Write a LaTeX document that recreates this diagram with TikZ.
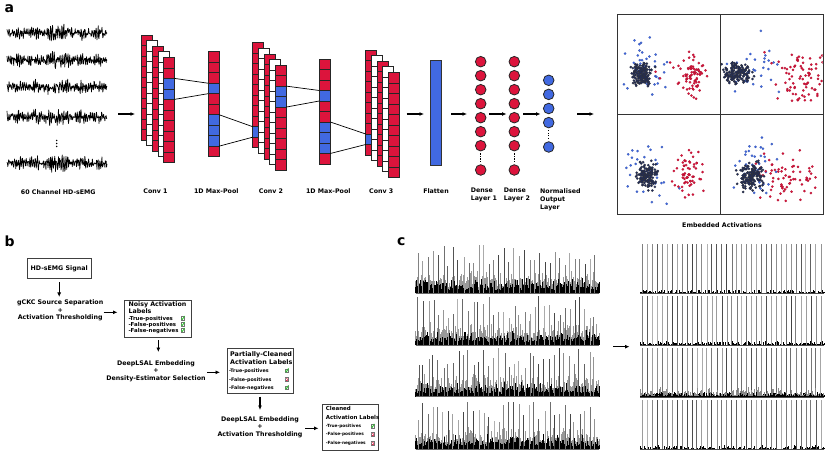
\documentclass[tikz,border=0pt]{standalone}
\usepackage{fontspec}
\setmainfont{DejaVu Sans}
\usetikzlibrary{arrows.meta}
\definecolor{cred}{RGB}{220,20,60}
\definecolor{cblue}{RGB}{65,105,225}
\definecolor{cnavy}{RGB}{28,42,100}
\definecolor{okgreen}{RGB}{50,190,50}
\newcommand\cnncol[3]{\foreach \j in {0,...,9}{\draw[cell,fill=#3] (#1,{#2+\j*10.5}) rectangle ++(11,10.5);}}
\newcommand\cnnblue[3]{\draw[cell,fill=cblue] (#1,{#2+#3*10.5}) rectangle ++(11,10.5);}
\newcommand\poolcol[2]{\cnncol{#1}{#2}{cred}\cnnblue{#1}{#2}{3}\cnnblue{#1}{#2}{6}\cnnblue{#1}{#2}{7}\cnnblue{#1}{#2}{8}}
\newcommand\scatterpts[6]{\foreach \i in {1,...,#1}{\pgfmathsetmacro\gx{#2+#4*(rand+rand+rand)}\pgfmathsetmacro\gy{#3+#5*(rand+rand+rand)}\path[#6] (\gx,\gy) circle (1.2pt);}}
\begin{document}
\begin{tikzpicture}[x=1pt,y=-1pt,
  cell/.style={draw=black!85, line width=0.6pt},
  conn/.style={draw=black, line width=0.7pt},
  arr/.style={-{Latex[length=4.5pt,width=4pt]}, line width=1.1pt},
  lbl/.style={font=\bfseries\fontsize{6.3}{8}\selectfont, inner sep=0pt},
  tsm/.style={font=\bfseries\fontsize{#1}{#1}\selectfont, inner sep=0pt, anchor=base west},
  neuron/.style={circle, draw=black!85, line width=0.8pt, minimum size=10.6pt, inner sep=0pt},
  dotline/.style={line width=1.4pt, dash pattern=on 1.2pt off 1.3pt, shorten <=2pt, shorten >=2pt},
  box/.style={draw=black!75, line width=0.7pt, inner sep=0pt},
  navypt/.style={fill=cnavy, draw=black!80, line width=0.2pt},
  bluept/.style={fill=cblue, draw=cblue!75!black, line width=0.15pt},
  redpt/.style={fill=cred, draw=cred!75!black, line width=0.15pt},
  okbox/.pic={\draw[line width=0.35pt, draw=black!55, fill=white] (-1.9,-1.9) rectangle (1.9,1.9); \draw[okgreen, line width=0.85pt] (-1.3,-0.1) -- (-0.3,1.2) -- (1.8,-2.3);},
  nobox/.pic={\draw[line width=0.35pt, draw=black!55, fill=cred] (-1.9,-1.9) rectangle (1.9,1.9); \draw[white, line width=0.45pt] (-1,-1) -- (1,1) (-1,1) -- (1,-1);},
  bigl/.style={font=\bfseries\fontsize{14}{16}\selectfont, anchor=base west, inner sep=0pt}]
\fill[white] (0,0) rectangle (830,454);
\useasboundingbox (0,0) rectangle (830,454);
\pgfmathsetseed{12345}

% ---------------- panel a ----------------
\node[bigl] (pa) at (4.5,13) {a};
\foreach \yy in {33,60,87,117,163}{
  \draw[line width=0.7pt, line join=round] plot[domain=7:107, samples=240] (\x,{\yy + (6.5+4/(1+((\x-58)/6)^2)+1.5*sin(\x*23))*(0.45*sin(10*mod(19*\x,36))+0.55*rand)});
}
\foreach \yy in {140.5,143.5,146.5}{\fill (56.7,\yy) circle (0.8pt);}
\node[lbl, anchor=base] (lemg) at (58.3,195) {60 Channel HD-sEMG};

% conv 1
\cnncol{141}{35}{cred}
\cnncol{146.6}{40.6}{white}
\cnncol{152.2}{46.2}{cred}
\cnncol{157.8}{51.8}{white}
\cnncol{163.4}{57.4}{cred}
\cnnblue{163.4}{57.4}{2}\cnnblue{163.4}{57.4}{3}
% pool 1
\poolcol{208}{51.7}
% conv 2
\cnncol{252.7}{42.7}{cred}\cnnblue{252.7}{42.7}{8}
\cnncol{258.3}{48.3}{white}
\cnncol{263.9}{53.9}{cred}
\cnncol{269.5}{59.5}{white}
\cnncol{275.1}{65.1}{cred}
\cnnblue{275.1}{65.1}{2}\cnnblue{275.1}{65.1}{3}
% pool 2
\poolcol{319.3}{59}
% conv 3
\cnncol{365.7}{50}{cred}\cnnblue{365.7}{50}{8}
\cnncol{371.3}{55.6}{white}
\cnncol{376.9}{61.2}{cred}
\cnncol{382.5}{66.8}{white}
\cnncol{388.1}{72.4}{cred}

\coordinate (c1t) at (174.4,78.4); \coordinate (c1b) at (174.4,99.4);
\coordinate (p1t) at (208,83.2);   \coordinate (p1b) at (208,93.7);
\coordinate (p1u) at (219,114.7);  \coordinate (p1v) at (219,146.2);
\coordinate (c2t) at (252.7,126.7); \coordinate (c2b) at (252.7,137.2);
\coordinate (c2u) at (286.1,86.1); \coordinate (c2v) at (286.1,107.1);
\coordinate (p2t) at (319.3,90.5); \coordinate (p2b) at (319.3,101);
\coordinate (p2u) at (330.3,122);  \coordinate (p2v) at (330.3,153.5);
\coordinate (c3t) at (365.7,134);  \coordinate (c3b) at (365.7,144.5);
\draw[conn] (c1t) -- (p1t) (c1b) -- (p1b) (p1u) -- (c2t) (p1v) -- (c2b)
            (c2u) -- (p2t) (c2v) -- (p2b) (p2u) -- (c3t) (p2v) -- (c3b);

\node[lbl, anchor=base] (lc1) at (155.5,193.3) {Conv 1};
\node[lbl, anchor=base] (lp1) at (216.3,193.3) {1D Max-Pool};
\node[lbl, anchor=base] (lc2) at (271,193.3) {Conv 2};
\node[lbl, anchor=base] (lp2) at (328.3,193.3) {1D Max-Pool};
\node[lbl, anchor=base] (lc3) at (381.2,193.3) {Conv 3};
\node[lbl, anchor=base] (lfl) at (436,193.3) {Flatten};

% flatten
\node[draw=black!80, line width=0.8pt, fill=cblue, minimum width=11pt, minimum height=105pt, inner sep=0pt] (flat) at (435.5,112.5) {};

% dense layers
\foreach \n/\yy in {1/61.7,2/75.7,3/89.7,4/103.7,5/117.7,6/131.7,7/145.7,8/170}{
  \node[neuron, fill=cred] (da\n) at (480.7,\yy) {};
  \node[neuron, fill=cred] (db\n) at (514.3,\yy) {};
}
\foreach \n/\yy in {1/80.3,2/94.4,3/108.5,4/122.6,5/147}{
  \node[neuron, fill=cblue] (o\n) at (548.7,\yy) {};
}
\draw[dotline] (da7.south) -- (da8.north);
\draw[dotline] (db7.south) -- (db8.north);
\draw[dotline] (o4.south) -- (o5.north);
\node[lbl, align=left, anchor=north west] (ld1) at (470.7,188.2) {Dense\\Layer 1};
\node[lbl, align=left, anchor=north west] (ld2) at (503.7,188.2) {Dense\\Layer 2};
\node[lbl, align=left, anchor=north west] (lno) at (540,188.2) {Normalised\\Output\\Layer};

% arrows panel a
\coordinate (a0s) at (118,114);   \coordinate (a0e) at (135,114);
\coordinate (a1s) at (406.7,114); \coordinate (a1e) at (424,114);
\coordinate (a2s) at (451,114);   \coordinate (a2e) at (467,114);
\coordinate (a3s) at (489,114);   \coordinate (a3e) at (506.5,114);
\coordinate (a4s) at (523,114);   \coordinate (a4e) at (540.5,114);
\coordinate (a5s) at (577.3,114); \coordinate (a5e) at (594,114);
\foreach \p in {0,...,5}{\draw[arr] (a\p s) -- (a\p e);}

% scatter plots
\begin{scope}
\clip (617.3,14.3) rectangle (720,115);
\scatterpts{35}{647}{70}{9}{16}{bluept}
\scatterpts{15}{675}{85}{13}{13}{redpt}
\scatterpts{65}{695}{75}{7}{10}{redpt}
\scatterpts{170}{642}{74}{5}{5.5}{navypt}
\end{scope}
\begin{scope}
\clip (720,14.3) rectangle (822.7,115);
\scatterpts{30}{758}{70}{18}{15}{bluept}
\scatterpts{85}{802}{78}{15}{12}{redpt}
\scatterpts{160}{737}{74}{7}{4.5}{navypt}
\end{scope}
\begin{scope}
\clip (617.3,115) rectangle (720,214.3);
\scatterpts{35}{650}{168}{13}{15}{bluept}
\scatterpts{60}{688}{173}{8}{10}{redpt}
\scatterpts{160}{647}{175}{5}{6}{navypt}
\end{scope}
\begin{scope}
\clip (720,115) rectangle (822.7,214.3);
\scatterpts{40}{755}{167}{11}{15}{bluept}
\scatterpts{70}{788}{178}{14}{11}{redpt}
\scatterpts{170}{752}{176}{6}{6.5}{navypt}
\end{scope}
\node[draw=black!80, line width=0.8pt, minimum width=205.4pt, minimum height=200pt, inner sep=0pt, anchor=north west] (emb) at (617.3,14.3) {};
\draw[black!80, line width=0.8pt] (emb.north) -- (emb.south) (emb.west) -- (emb.east);
\node[lbl, anchor=base] (lemb) at (722,227.5) {Embedded Activations};

% ---------------- panel b ----------------
\node[bigl] (pb) at (4.5,246.5) {b};
\node[lbl, box, minimum width=63.7pt, minimum height=20pt] (sig) at (59.2,268.3) {HD-sEMG Signal};
\node[lbl, align=center, font=\bfseries\fontsize{6.3}{7.5}\selectfont] (gckc) at (60.2,310.6) {gCKC Source Separation\\+\\Activation Thresholding};
\node[box, minimum width=66.4pt, minimum height=36.7pt, anchor=north west] (noisy) at (124.3,300) {};
\node[tsm=6.3] (n1) at (128.3,306.6) {Noisy Activation};
\node[tsm=6.3] (n2) at (128.3,313.3) {Labels};
\node[tsm=5.4] (n3) at (128.3,320.1) {-True-positives};
\node[tsm=5.4] (n4) at (128.3,326.1) {-False-positives};
\node[tsm=5.4] (n5) at (128.3,332.1) {-False-negatives};
\pic at (182.7,318.3) {okbox};
\pic at (182.7,324.3) {okbox};
\pic at (182.7,330.3) {okbox};

\node[lbl, align=center, font=\bfseries\fontsize{6.3}{7.5}\selectfont] (deep1) at (156,371) {DeepLSAL Embedding\\+\\Density-Estimator Selection};
\node[box, minimum width=66.6pt, minimum height=45pt, anchor=north west] (partial) at (226.7,348.3) {};
\node[tsm=6.4] (q1) at (230,356.4) {Partially-Cleaned};
\node[tsm=6.4] (q2) at (230,364.1) {Activation Labels};
\node[tsm=4.8] (q3) at (229,372.4) {-True-positives};
\node[tsm=4.8] (q4) at (229,381) {-False-positives};
\node[tsm=4.8] (q5) at (229,389.4) {-False-negatives};
\pic at (286.7,370.7) {okbox};
\pic at (286.7,379.3) {nobox};
\pic at (286.7,387.7) {okbox};

\node[lbl, align=center, font=\bfseries\fontsize{6.3}{7.8}\selectfont] (deep2) at (260,427.2) {DeepLSAL Embedding\\+\\Activation Thresholding};
\node[box, minimum width=56.6pt, minimum height=46pt, anchor=north west] (clean) at (321.7,404) {};
\node[tsm=5.5] (r1) at (325.7,410.8) {Cleaned};
\node[tsm=5.5] (r2) at (325.7,419.6) {Activation Labels};
\node[tsm=4.3] (r3) at (325.7,427.6) {-True-positives};
\node[tsm=4.3] (r4) at (325.7,435.9) {-False-positives};
\node[tsm=4.3] (r5) at (325.7,444.9) {-False-negatives};
\pic[scale=0.9] at (372.7,426) {okbox};
\pic[scale=0.9] at (372.7,434.3) {nobox};
\pic[scale=0.9] at (372.7,443.3) {nobox};

\coordinate (b1s) at (59.2,282.3);  \coordinate (b1e) at (59.2,297);
\coordinate (b2s) at (103.5,312.3); \coordinate (b2e) at (117.5,312.3);
\coordinate (b3s) at (158.3,340);   \coordinate (b3e) at (158.3,352);
\coordinate (b4s) at (207,372.3);   \coordinate (b4e) at (220,372.3);
\coordinate (b5s) at (260,396.7);   \coordinate (b5e) at (260,410);
\coordinate (b6s) at (305,428.3);   \coordinate (b6e) at (318.5,428.3);
\foreach \p in {1,...,6}{\draw[arr] (b\p s) -- (b\p e);}

% ---------------- panel c ----------------
\node[bigl] (pc) at (397,245.5) {c};
\foreach \bl in {293.3,345,396.7,449.3}{
  \begin{scope}[shift={(0,\bl)}]
    \draw[ycomb, black!40, line width=0.5pt] plot[domain=415.7:599.3, samples=330] (\x,{-(6+19*rnd*rnd)});
    \draw[ycomb, black, line width=0.55pt] plot[domain=415.7:599.3, samples=360] (\x,{-(3+13*rnd*rnd)});
    \foreach \i in {0,...,35}{
      \pgfmathsetmacro\sx{418+\i*5.05+rand*1.2}
      \pgfmathsetmacro\sh{27+22*rnd}
      \pgfmathtruncatemacro\sc{30+45*rnd}
      \draw[black!\sc, line width=0.5pt] (\sx,0) -- (\sx,-\sh);
    }
    \draw[black!60, line width=0.5pt] (415.7,0) -- (599.3,0);
  \end{scope}
}
\foreach \bl in {293.3,345,396.7,449.3}{
  \begin{scope}[shift={(0,\bl)}]
    \draw[ycomb, black, line width=0.35pt] plot[domain=640:824, samples=300] (\x,{-(0.4+3.5*rnd^3)});
    \foreach \i in {0,...,36}{
      \pgfmathsetmacro\sx{642.5+\i*4.95+rand*0.3}
      \pgfmathtruncatemacro\sc{30+45*rnd}
      \draw[black!\sc, line width=0.55pt] (\sx,0) -- (\sx,-49);
    }
    \draw[black!70, line width=0.4pt] (640,0) -- (824,0);
  \end{scope}
}
\begin{scope}[shift={(0,396.7)}]
  \draw[ycomb, black!45, line width=0.35pt] plot[domain=640:824, samples=300] (\x,{-(1+9*rnd*rnd)});
  \draw[ycomb, black, line width=0.35pt] plot[domain=640:824, samples=200] (\x,{-(0.5+4*rnd^3)});
\end{scope}
\coordinate (c0s) at (613.3,346.7); \coordinate (c0e) at (629.5,346.7);
\draw[arr] (c0s) -- (c0e);
\end{tikzpicture}
\end{document}
